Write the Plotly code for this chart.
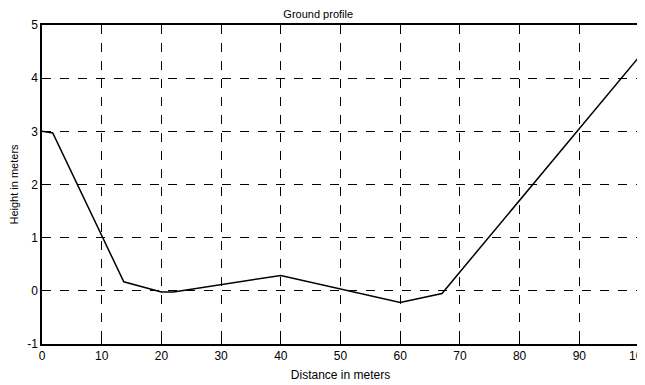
import plotly.graph_objects as go

distance = [0, 1.8, 13.7, 20, 22, 40, 60, 67, 100]
height = [3.0, 2.97, 0.17, -0.02, -0.02, 0.29, -0.22, -0.05, 4.4]
x_ticks = [0, 10, 20, 30, 40, 50, 60, 70, 80, 90, 100]
y_ticks = [-1, 0, 1, 2, 3, 4, 5]

fig = go.Figure()
fig.add_trace(go.Scatter(x=distance, y=height, mode="lines",
                         line=dict(color="black", width=1.5), showlegend=False))

axis_common = dict(showgrid=True, gridcolor="black", griddash="dash", gridwidth=1.2,
                   showline=True, linecolor="black", linewidth=1.5, mirror=True,
                   ticks="inside", ticklen=4, tickcolor="black", zeroline=False,
                   automargin=False, ticklabeloverflow="allow",
                   tickfont=dict(family="Liberation Sans", size=12, color="black"))

fig.update_xaxes(range=[0, 100], tickvals=x_ticks, ticktext=[str(v) for v in x_ticks],
                 title=dict(text="Distance in meters", standoff=8,
                            font=dict(family="Liberation Sans", size=12, color="black")),
                 **axis_common)
fig.update_yaxes(range=[-1, 5], tickvals=y_ticks, ticktext=[str(v) for v in y_ticks],
                 title=dict(text="Height in meters", standoff=6,
                            font=dict(family="Liberation Sans", size=11, color="black")),
                 **axis_common)

fig.update_layout(
    width=637, height=377,
    margin=dict(l=34, r=6, t=17, b=41, autoexpand=False),
    paper_bgcolor="white", plot_bgcolor="white",
    title=dict(text="Ground profile", x=0.487, xanchor="center", y=0.995, yanchor="top",
               font=dict(family="Liberation Sans", size=11, color="black")),
)

fig.write_html("out.html")
